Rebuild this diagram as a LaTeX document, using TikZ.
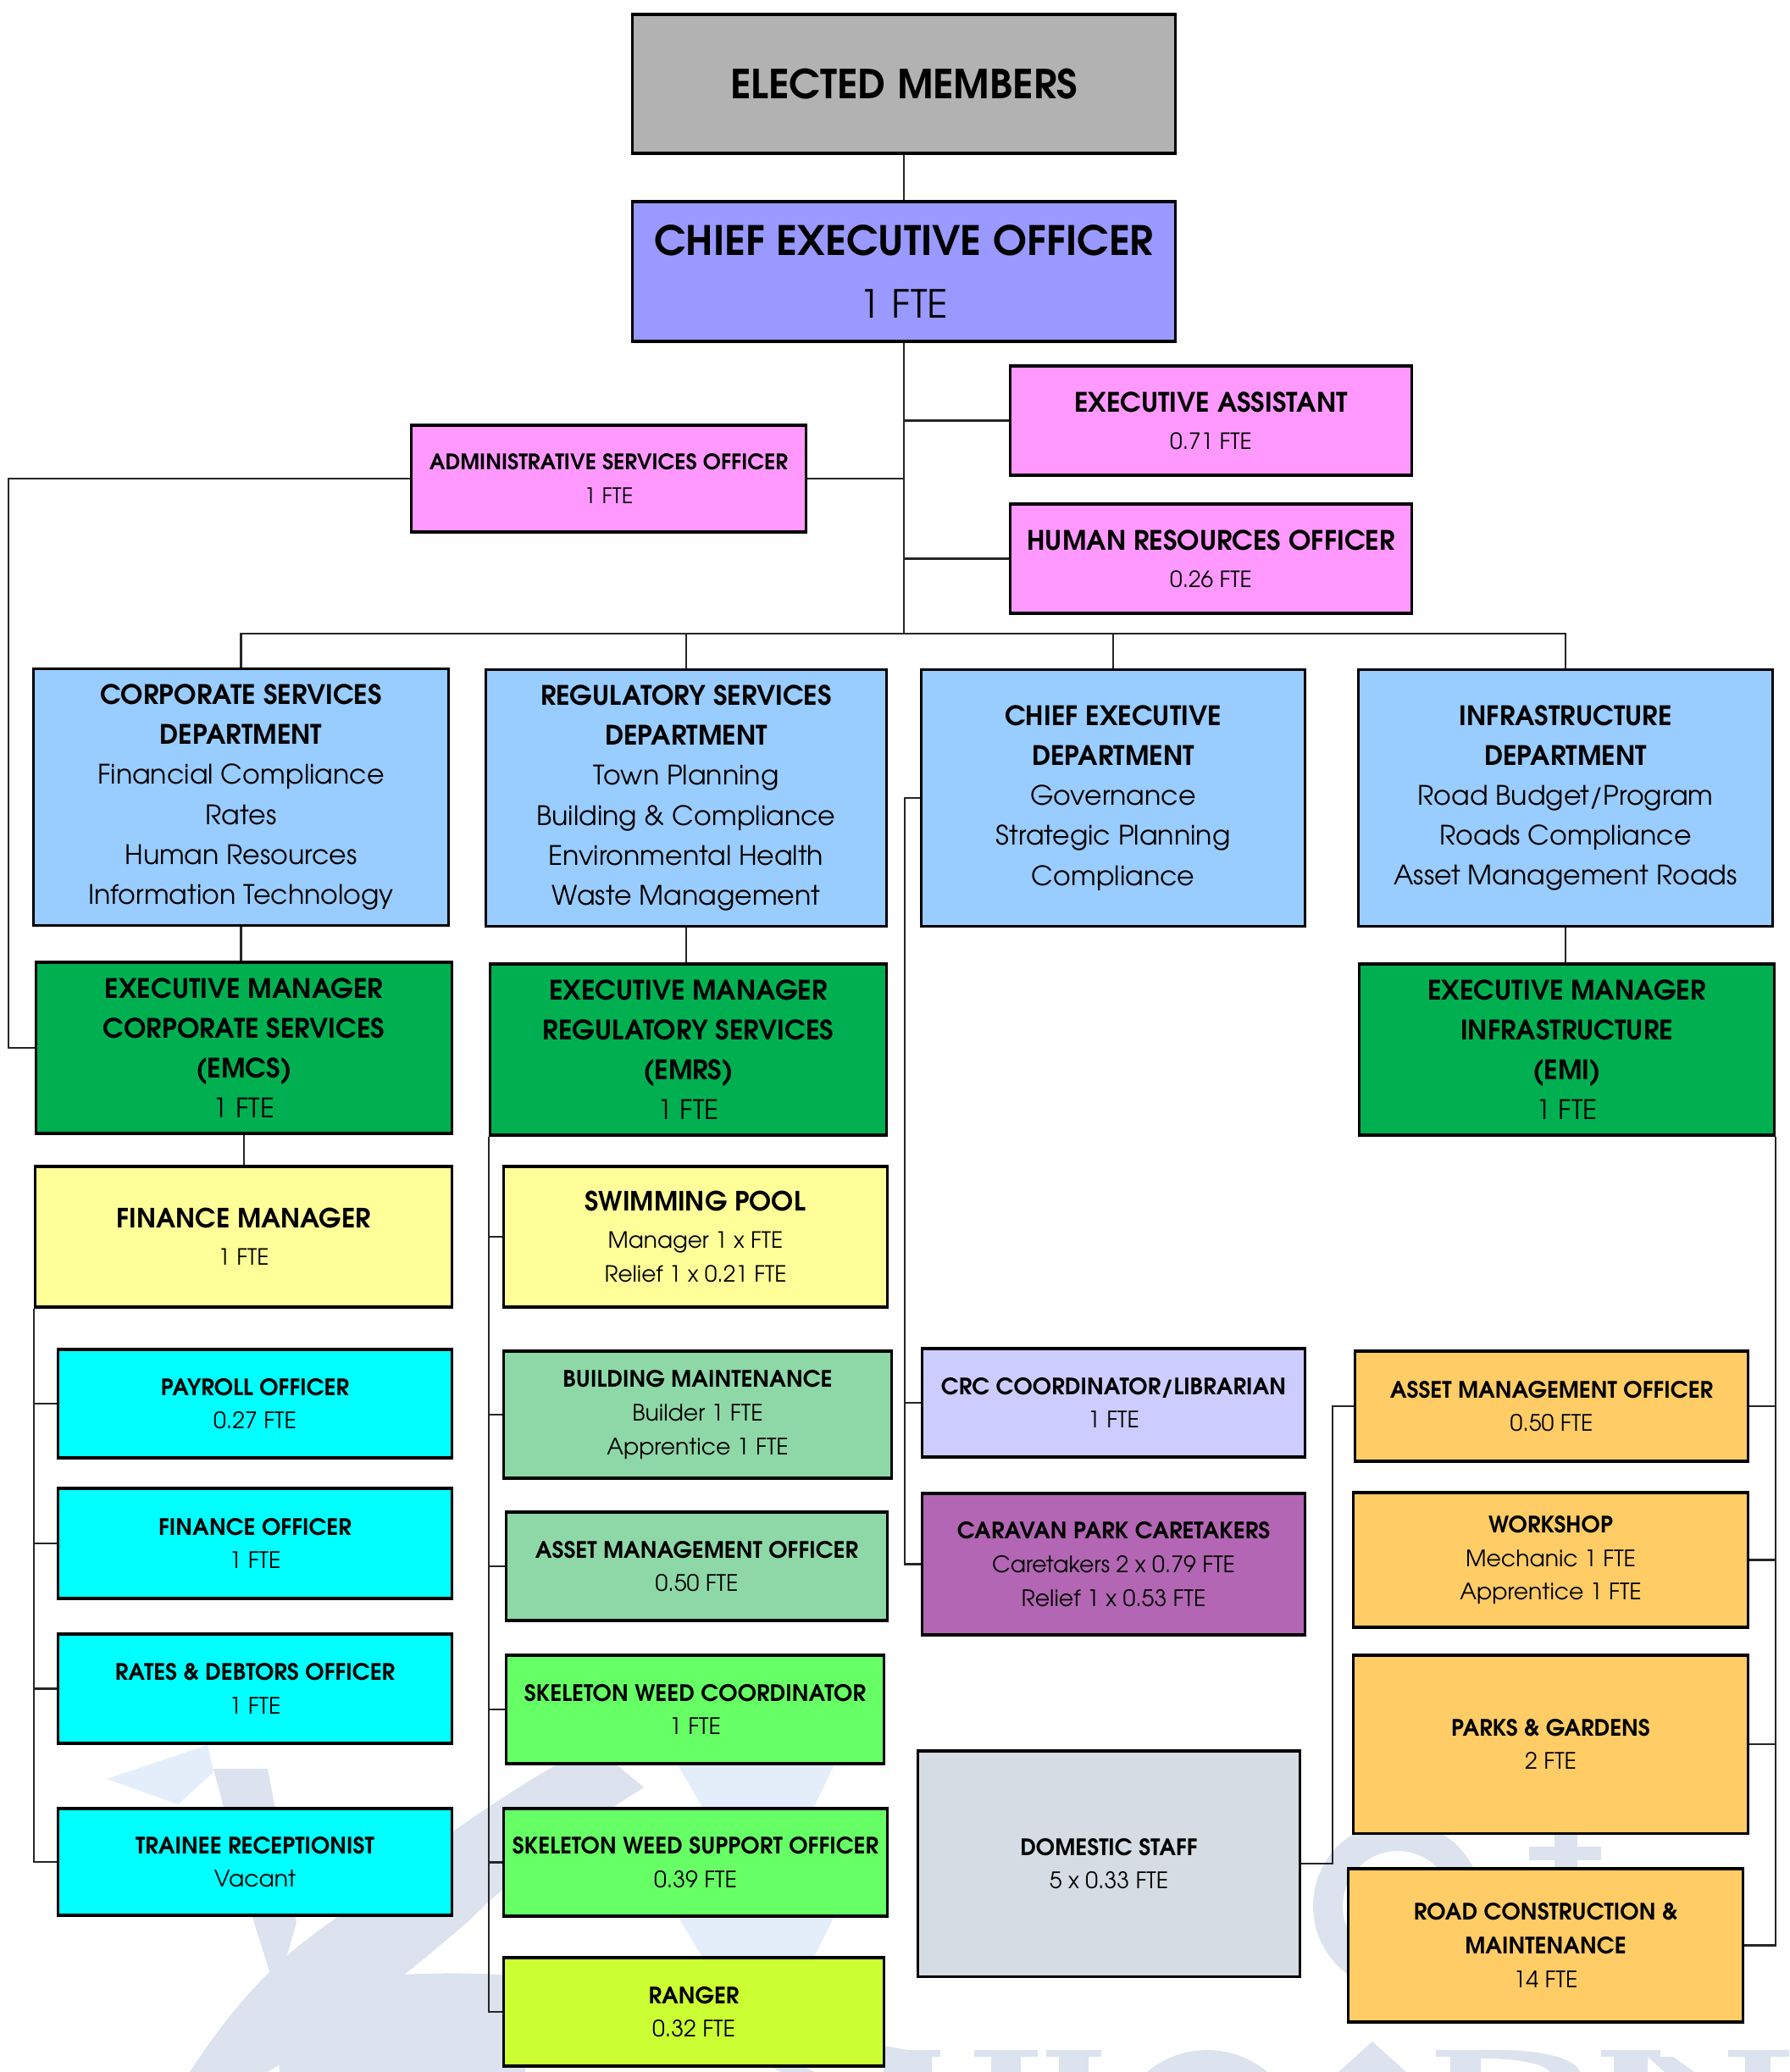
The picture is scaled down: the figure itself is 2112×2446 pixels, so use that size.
\documentclass[tikz,border=0pt]{standalone}
\usepackage{fontspec}
\setmainfont{TeX Gyre Adventor}
\usetikzlibrary{calc}
\definecolor{cGrey}{HTML}{B2B2B2}
\definecolor{cCeo}{HTML}{9999FF}
\definecolor{cPink}{HTML}{FF99FF}
\definecolor{cDept}{HTML}{99CCFF}
\definecolor{cEM}{HTML}{00B050}
\definecolor{cYel}{HTML}{FFFF99}
\definecolor{cCyan}{HTML}{00FFFF}
\definecolor{cSea}{HTML}{8ED8A8}
\definecolor{cLime}{HTML}{66FF66}
\definecolor{cRanger}{HTML}{CCFF33}
\definecolor{cCrc}{HTML}{CCCCFF}
\definecolor{cCar}{HTML}{B366B3}
\definecolor{cDom}{HTML}{D5DCE4}
\definecolor{cOr}{HTML}{FFCC66}
\definecolor{cWm}{HTML}{DCE2EE}
\definecolor{cWmb}{HTML}{E3EEFA}
\newcommand\bx[7]{%
  \pgfmathsetmacro\bw{(#4-#2)/100}\pgfmathsetmacro\bh{(#5-#3)/100}%
  \node[box,#6,minimum width=\bw cm,minimum height=\bh cm] (#1) at ({(#2+#4)/2},{(#3+#5)/2}) {#7};}
\newcommand\hdl[1]{{\fontsize{8.9}{11}\selectfont\bfseries #1}}
\begin{document}
\begin{tikzpicture}[x=0.01cm,y=-0.01cm,
  box/.style={draw=black,line width=0.9pt,align=center,inner sep=0pt,text=black},
  conn/.style={draw=black!85,line width=0.6pt},
  dept/.style={fill=cDept,node font=\fontsize{9}{13.4}\selectfont},
  emgr/.style={fill=cEM,node font=\fontsize{9}{13.4}\selectfont},
  smallbox/.style={node font=\fontsize{7.6}{11.3}\selectfont},
  wm/.style={fill=cWm}, wmb/.style={fill=cWmb}]
\useasboundingbox[fill=white] (0,0) rectangle (2112,2446);
% watermark (faint logo)
\path[wmb] (126,2100) -- (245,2060) -- (252,2092) -- (210,2130) -- cycle;
\path[wm] (252,2088) -- (316,2088) -- (350,2270) -- (326,2352) -- (300,2270) -- cycle;
\path[wm] (224,2446) .. controls (280,2360) and (330,2310) .. (393,2267)
  .. controls (480,2200) and (600,2110) .. (700,2060)
  -- (760,2110) .. controls (680,2160) and (600,2220) .. (554,2267)
  .. controls (470,2340) and (390,2400) .. (316,2446) -- cycle;
\path[wm] (323,2353) .. controls (420,2330) and (520,2325) .. (620,2333) -- (620,2446) -- (330,2446) -- cycle;
\path[wmb] (800,2262) -- (985,2262) -- (960,2312) -- (830,2312) -- cycle;
\path[wmb] (800,2083) -- (985,2083) -- (960,2135) -- (830,2135) -- cycle;
\path[wm] (1043,2415) -- (1100,2425) -- (1100,2446) -- (1043,2446) -- cycle;
% faint letters at the bottom edge
\path[wm] (862,2416) -- (902,2416) -- (962,2446) -- (922,2446) -- cycle;
\path[wm] (1035,2420) rectangle (1110,2428); \path[wm] (1055,2428) rectangle (1090,2446);
\path[wm] (1150,2420) rectangle (1225,2428); \path[wm] (1170,2428) rectangle (1205,2446);
\path[wm] (1235,2420) rectangle (1300,2428); \path[wm] (1250,2428) rectangle (1285,2446);
\path[wm,even odd rule] (1425,2530) circle[radius=110] (1425,2530) circle[radius=75];
\path[wm] (1620,2410) -- (1580,2446) -- (1660,2446) -- cycle;
\path[wm] (1695,2420) rectangle (1770,2428); \path[wm] (1712,2428) rectangle (1748,2446);
\path[wm] (1748,2420) .. controls (1820,2418) and (1860,2430) .. (1865,2446) -- (1830,2446) .. controls (1820,2435) and (1790,2430) .. (1748,2430) -- cycle;
\path[wm] (1890,2420) rectangle (1960,2428); \path[wm] (1905,2428) rectangle (1945,2446);
\path[wm] (1945,2428) -- (1975,2428) -- (2000,2446) -- (1965,2446) -- cycle;
\path[wm] (2040,2420) rectangle (2112,2428); \path[wm] (2060,2428) rectangle (2090,2446);
% faint letters near the road box
\path[wm,even odd rule] (1650,2250) circle[radius=100] (1650,2250) circle[radius=65];
\path[wm] (1835,2150) rectangle (1862,2210); \path[wm] (1805,2180) rectangle (1890,2196);
% boxes
\bx{elected}{747}{17}{1387}{181}{fill=cGrey,node font=\fontsize{13.4}{20}\selectfont}{\bfseries ELECTED MEMBERS}
\bx{ceo}{747}{238}{1387}{403}{fill=cCeo,node font=\fontsize{13.6}{20.8}\selectfont}{\textbf{CHIEF EXECUTIVE OFFICER}\\{\fontsize{13}{20}\selectfont 1 FTE}}
\bx{ea}{1193}{432}{1666}{561}{fill=cPink,node font=\fontsize{9}{12.5}\selectfont}{\textbf{EXECUTIVE ASSISTANT}\\{\fontsize{7.5}{9}\selectfont 0.71 FTE}}
\bx{hr}{1193}{595}{1666}{724}{fill=cPink,node font=\fontsize{9}{12.5}\selectfont}{\textbf{HUMAN RESOURCES OFFICER}\\{\fontsize{7.5}{9}\selectfont 0.26 FTE}}
\bx{admin}{486}{502}{951}{628}{fill=cPink,node font=\fontsize{7.2}{11.5}\selectfont}{\textbf{ADMINISTRATIVE SERVICES OFFICER}\\1 FTE}
\bx{corp}{40}{790}{529}{1092}{dept}{\textbf{CORPORATE SERVICES}\\\textbf{DEPARTMENT}\\Financial Compliance\\Rates\\Human Resources\\Information Technology}
\bx{reg}{574}{791}{1046}{1093}{dept}{\textbf{REGULATORY SERVICES}\\\textbf{DEPARTMENT}\\Town Planning\\Building \& Compliance\\Environmental Health\\Waste Management}
\bx{ce}{1088}{791}{1540}{1093}{dept}{\textbf{CHIEF EXECUTIVE}\\\textbf{DEPARTMENT}\\Governance\\Strategic Planning\\Compliance}
\bx{infra}{1604}{791}{2092}{1093}{dept}{\textbf{INFRASTRUCTURE}\\\textbf{DEPARTMENT}\\Road Budget/Program\\Roads Compliance\\Asset Management Roads}
\bx{emcs}{43}{1136}{533}{1338}{emgr}{\textbf{EXECUTIVE MANAGER}\\\textbf{CORPORATE SERVICES}\\\textbf{(EMCS)}\\1 FTE}
\bx{emrs}{579}{1138}{1046}{1340}{emgr}{\textbf{EXECUTIVE MANAGER}\\\textbf{REGULATORY SERVICES}\\\textbf{(EMRS)}\\1 FTE}
\bx{emi}{1605}{1138}{2094}{1340}{emgr}{\textbf{EXECUTIVE MANAGER}\\\textbf{INFRASTRUCTURE}\\\textbf{(EMI)}\\1 FTE}
\bx{fm}{42}{1377}{533}{1543}{fill=cYel,node font=\fontsize{7.5}{12.5}\selectfont}{\hdl{FINANCE MANAGER}\\1 FTE}
\bx{pool}{595}{1377}{1047}{1543}{fill=cYel,node font=\fontsize{7.5}{11.3}\selectfont}{\hdl{SWIMMING POOL}\\[1.2pt]Manager 1 x FTE\\Relief 1 x 0.21 FTE}
\bx{payroll}{69}{1593}{533}{1721}{fill=cCyan,smallbox}{\textbf{PAYROLL OFFICER}\\0.27 FTE}
\bx{fo}{69}{1757}{533}{1887}{fill=cCyan,smallbox}{\textbf{FINANCE OFFICER}\\1 FTE}
\bx{rates}{69}{1929}{533}{2058}{fill=cCyan,smallbox}{\textbf{RATES \& DEBTORS OFFICER}\\1 FTE}
\bx{trainee}{69}{2135}{533}{2261}{fill=cCyan,smallbox}{\textbf{TRAINEE RECEPTIONIST}\\Vacant}
\bx{bm}{595}{1595}{1052}{1745}{fill=cSea,smallbox}{\textbf{BUILDING MAINTENANCE}\\Builder 1 FTE\\Apprentice 1 FTE}
\bx{amotwo}{598}{1785}{1047}{1913}{fill=cSea,smallbox}{\textbf{ASSET MANAGEMENT OFFICER}\\0.50 FTE}
\bx{swc}{598}{1954}{1043}{2082}{fill=cLime,smallbox}{\textbf{SKELETON WEED COORDINATOR}\\1 FTE}
\bx{swso}{595}{2135}{1047}{2262}{fill=cLime,smallbox}{\textbf{SKELETON WEED SUPPORT OFFICER}\\0.39 FTE}
\bx{ranger}{595}{2311}{1043}{2439}{fill=cRanger,smallbox}{\textbf{RANGER}\\0.32 FTE}
\bx{crc}{1089}{1592}{1540}{1720}{fill=cCrc,smallbox}{\textbf{CRC COORDINATOR/LIBRARIAN}\\1 FTE}
\bx{caravan}{1089}{1763}{1540}{1930}{fill=cCar,smallbox}{\textbf{CARAVAN PARK CARETAKERS}\\Caretakers 2 x 0.79 FTE\\Relief 1 x 0.53 FTE}
\bx{dom}{1084}{2067}{1534}{2333}{fill=cDom,smallbox}{\textbf{DOMESTIC STAFF}\\5 x 0.33 FTE}
\bx{amo}{1600}{1595}{2063}{1725}{fill=cOr,smallbox}{\textbf{ASSET MANAGEMENT OFFICER}\\0.50 FTE}
\bx{ws}{1598}{1762}{2063}{1921}{fill=cOr,smallbox}{\textbf{WORKSHOP}\\Mechanic 1 FTE\\Apprentice 1 FTE}
\bx{parks}{1598}{1954}{2063}{2164}{fill=cOr,smallbox}{\textbf{PARKS \& GARDENS}\\2 FTE}
\bx{road}{1592}{2206}{2057}{2387}{fill=cOr,smallbox}{\textbf{ROAD CONSTRUCTION \&}\\\textbf{MAINTENANCE}\\14 FTE}
% connectors
\coordinate (bus) at (1069,748);
\coordinate (admL) at (10,569);
\coordinate (ceL) at (1068,0);
\coordinate (domR) at (1573,0);
\draw[conn] (elected.south) -- (ceo.north);
\draw[conn] (ceo.south) -- (ceo.south |- bus);
\draw[conn] (ea.west) -- (ea.west -| ceo.south);
\draw[conn] (hr.west) -- (hr.west -| ceo.south);
\draw[conn] (admin.east) -- (admin.east -| ceo.south);
\draw[conn] (corp.north) |- (infra.north |- bus) -- (infra.north);
\draw[conn] (reg.north) -- (reg.north |- bus);
\draw[conn] (ce.north) -- (ce.north |- bus);
\draw[conn] (corp.south) -- (corp.south |- emcs.north);
\draw[conn] (reg.south) -- (reg.south |- emrs.north);
\draw[conn] (infra.south) -- (infra.south |- emi.north);
\draw[conn] (emcs.south) -- (emcs.south |- fm.north);
\draw[conn] (admin.west) -- (admin.west -| admL) |- (emcs.west);
\draw[conn] (fm.south west) |- (trainee.west);
\foreach \n in {payroll,fo,rates} \draw[conn] (\n.west) -- (\n.west -| fm.south west);
\draw[conn] (emrs.south west) |- (ranger.west);
\foreach \n in {pool,bm,amotwo,swc,swso} \draw[conn] (\n.west) -- (\n.west -| emrs.south west);
\draw[conn] (ce.west) -- (ce.west -| ceL) |- (caravan.west);
\draw[conn] (crc.west) -- (crc.west -| ceL);
\draw[conn] (emi.south east) |- (road.east);
\foreach \n in {amo,ws,parks} \draw[conn] (\n.east) -- (\n.east -| emi.south east);
\draw[conn] (dom.east) -- (dom.east -| domR) |- (amo.west);
\end{tikzpicture}
\end{document}
